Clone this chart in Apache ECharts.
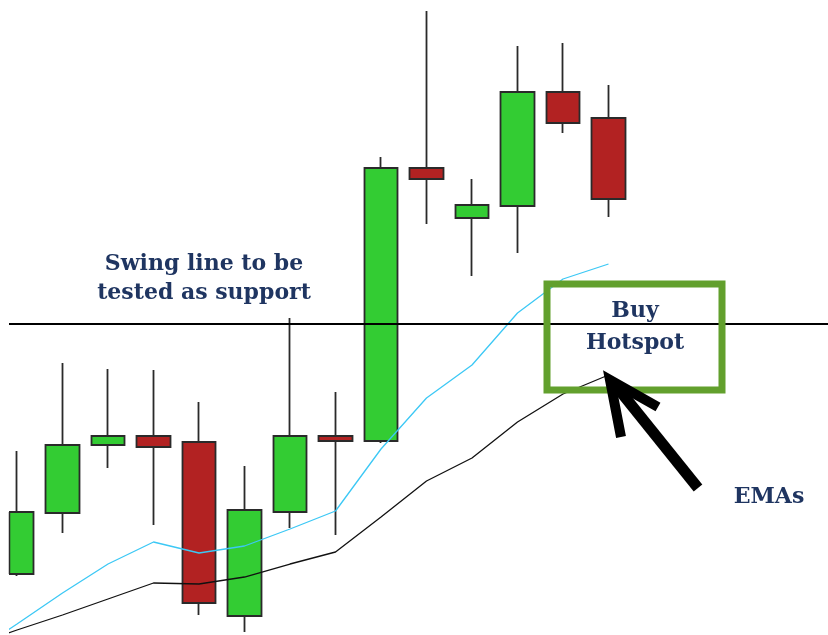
<!DOCTYPE html>
<html>
<head>
<meta charset="utf-8">
<script src="https://cdn.jsdelivr.net/npm/echarts@6/dist/echarts.min.js"></script>
<style>html,body{margin:0;padding:0;background:#fff}#c{width:828px;height:635px}</style>
</head>
<body>
<div id="c"></div>
<script>
// candle index positions
const candleIndex = [0,1,2,3,4,5,6,7,8,9,10,11,12,13];
// [open, close, low, high]
const opens  = [6.1, 12.2, 19.0, 19.9, 19.3, 1.9, 12.3, 19.9, 19.4, 46.7, 41.7, 42.9, 54.3, 51.7];
const closes = [12.3, 19.0, 19.9, 18.8, 3.2, 12.5, 19.9, 19.4, 46.7, 45.6, 43.0, 54.3, 51.2, 43.6];
const lows   = [5.9, 10.2, 16.7, 11.0, 2.0, 0.3, 10.7, 10.0, 19.2, 41.1, 35.9, 38.2, 50.2, 41.8];
const highs  = [18.4, 27.2, 26.6, 26.5, 23.3, 16.9, 31.7, 24.3, 47.8, 62.4, 45.6, 58.9, 59.2, 55.0];
// EMA positions include one earlier bar (-1)
const emaIndex = [-1,0,1,2,3,4,5,6,7,8,9,10,11,12,13];
const emaFast = [-1.9, 1.1, 4.2, 7.1, 9.3, 8.2, 8.9, 10.6, 12.4, 18.6, 23.7, 27.0, 32.2, 35.6, 37.1];
const emaSlow = [-1.1, 0.5, 2.0, 3.6, 5.2, 5.1, 5.8, 7.1, 8.3, 11.8, 15.4, 17.7, 21.3, 24.1, 26.0];
const swingLevel = 31.1;

const candleData = candleIndex.map((x, i) => [x, opens[i], closes[i], lows[i], highs[i]]);
const fastData = emaIndex.map((x, i) => [x, emaFast[i]]);
const slowData = emaIndex.map((x, i) => [x, emaSlow[i]]);

const chart = echarts.init(document.getElementById('c'));
const textColor = '#1f3561';
const fnt = "bold 22px 'DejaVu Serif'";
chart.setOption({
  animation: false,
  backgroundColor: '#ffffff',
  grid: {left: 9, right: 0, top: 0, bottom: 0},
  xAxis: {type: 'value', min: -0.176, max: 17.824, show: false},
  yAxis: {type: 'value', min: 0, max: 63.5, show: false},
  series: [
    {
      type: 'candlestick',
      data: candleData,
      barWidth: 34,
      clip: true,
      z: 2,
      itemStyle: {color: '#33cc33', color0: '#b22222', borderColor: '#2a2a2a', borderColor0: '#2a2a2a', borderWidth: 1.8}
    },
    {type: 'line', data: fastData, symbol: 'none', z: 3, lineStyle: {color: '#3cc8f5', width: 1.3}},
    {type: 'line', data: slowData, symbol: 'none', z: 3, lineStyle: {color: '#111111', width: 1.3},
     markLine: {silent: true, symbol: 'none', label: {show: false}, lineStyle: {color: '#000', width: 2, type: 'solid'},
       data: [{yAxis: swingLevel}]}}
  ],
  graphic: [
    {type: 'rect', z: 9, shape: {x: 0, y: 0, width: 9, height: 635}, style: {fill: '#ffffff'}},
    {type: 'line', z: 9, shape: {x1: 9.5, y1: 512, x2: 9.5, y2: 574}, style: {stroke: '#2a2a2a', lineWidth: 1.5}},
    {type: 'rect', z: 10, shape: {x: 547, y: 284, width: 175, height: 106}, style: {fill: 'none', stroke: '#62a02d', lineWidth: 7}},
    {type: 'polyline', z: 11, shape: {points: [[698, 488], [616, 386]]}, style: {stroke: '#000', lineWidth: 11, fill: 'none'}},
    {type: 'polyline', z: 11, shape: {points: [[658, 407], [610, 380], [621, 437]]}, style: {stroke: '#000', lineWidth: 10, fill: 'none', lineJoin: 'miter'}},
    {type: 'text', z: 12, style: {text: 'Swing line to be', x: 204, y: 264, align: 'center', verticalAlign: 'middle', font: fnt, fill: textColor}},
    {type: 'text', z: 12, style: {text: 'tested as support', x: 204, y: 293, align: 'center', verticalAlign: 'middle', font: fnt, fill: textColor}},
    {type: 'text', z: 12, style: {text: 'Buy', x: 635, y: 311, align: 'center', verticalAlign: 'middle', font: fnt, fill: textColor}},
    {type: 'text', z: 12, style: {text: 'Hotspot', x: 635, y: 343, align: 'center', verticalAlign: 'middle', font: fnt, fill: textColor}},
    {type: 'text', z: 12, style: {text: 'EMAs', x: 769, y: 497, align: 'center', verticalAlign: 'middle', font: fnt, fill: textColor}}
  ]
});
</script>
</body>
</html>
